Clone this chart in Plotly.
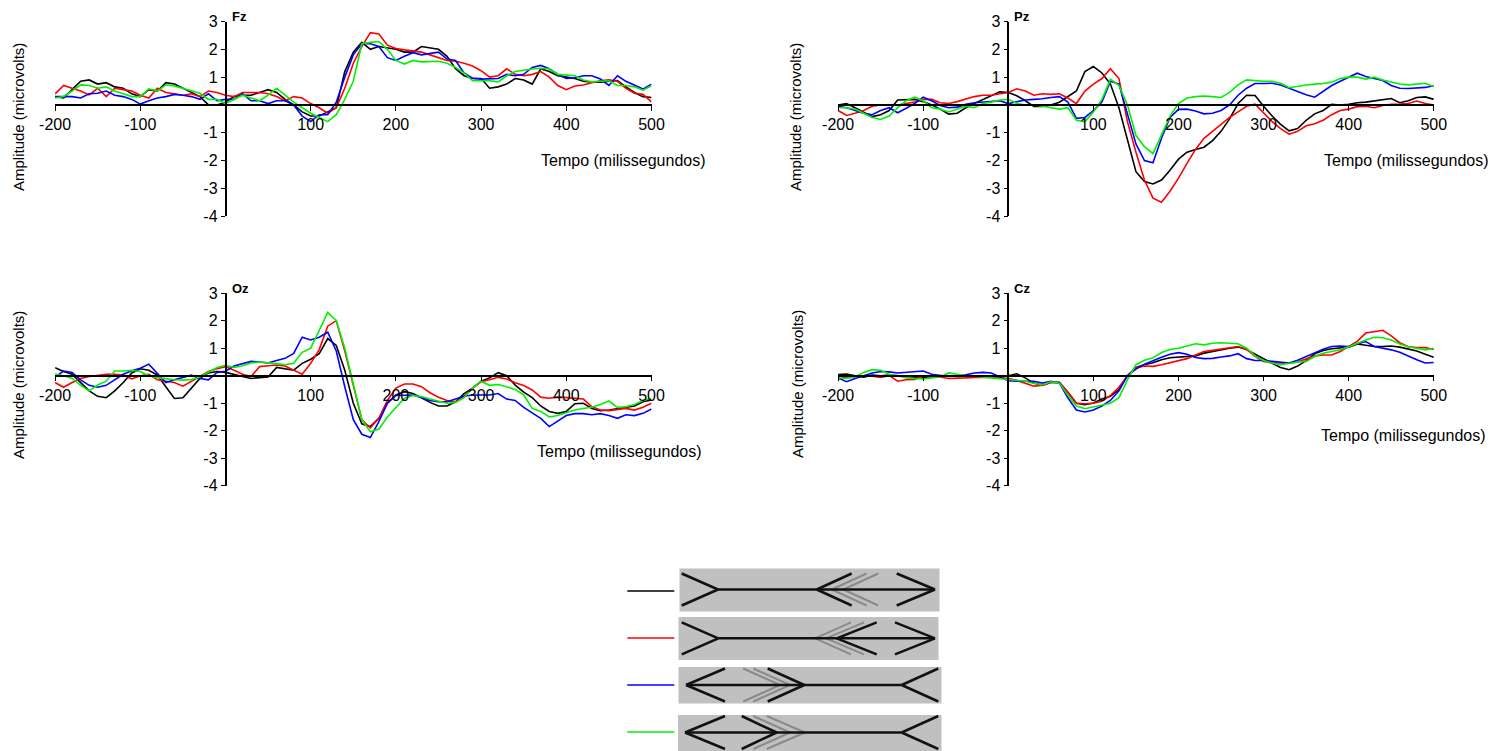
import plotly.graph_objects as go

W, H = 1508, 751


def px(x):
    return x / W


def py(y):
    return 1 - y / H


# ---------------- data ----------------
time_ms = list(range(-200, 501, 10))
x_ticks = [-200, -100, 100, 200, 300, 400, 500]
y_ticks = [-4, -3, -2, -1, 1, 2, 3]
series_colors = ["#000000", "#ff0000", "#0000ff", "#00f000"]

fz_black = [0.3, 0.25, 0.55, 0.85, 0.9, 0.75, 0.8, 0.65, 0.6, 0.4,
            0.3, 0.55, 0.5, 0.8, 0.75, 0.6, 0.45, 0.3, 0.0, 0.0,
            0.1, 0.3, 0.35, 0.35, 0.45, 0.55, 0.45, 0.2, 0.0, -0.25,
            -0.4, -0.4, -0.25, -0.1, 1.2, 1.9, 2.25, 2.0, 2.1, 2.05,
            2.0, 1.9, 1.9, 2.1, 2.05, 2.0, 1.75, 1.3, 1.05, 0.95,
            0.95, 0.6, 0.65, 0.75, 0.95, 0.9, 0.75, 1.3, 1.2, 1.05,
            1.0, 0.95, 0.85, 0.82, 0.82, 0.85, 0.88, 0.65, 0.45, 0.3,
            0.27]
fz_red = [0.4, 0.7, 0.6, 0.5, 0.36, 0.6, 0.3, 0.6, 0.55, 0.5,
          0.35, 0.25, 0.6, 0.45, 0.4, 0.35, 0.4, 0.3, 0.5, 0.45,
          0.35, 0.3, 0.45, 0.45, 0.45, 0.4, 0.3, 0.15, 0.3, 0.25,
          0.05, -0.1, -0.3, -0.1, 0.6, 1.5, 2.1, 2.6, 2.55, 2.15,
          2.03, 1.98, 1.95, 1.9, 1.8, 1.7, 1.6, 1.57, 1.5, 1.4,
          1.23, 1.0, 1.05, 1.3, 1.1, 1.05, 1.1, 1.2, 1.0, 0.7,
          0.55, 0.68, 0.72, 0.8, 0.87, 0.9, 0.85, 0.6, 0.42, 0.38,
          0.11]
fz_blue = [0.3, 0.3, 0.3, 0.25, 0.4, 0.42, 0.5, 0.35, 0.3, 0.2,
           0.03, 0.15, 0.25, 0.3, 0.38, 0.35, 0.3, 0.2, 0.4, 0.15,
           0.2, 0.2, 0.4, 0.15, 0.15, 0.05, 0.15, 0.15, 0.0, -0.4,
           -0.6, -0.35, -0.35, 0.1, 1.0, 1.8, 2.2, 2.2, 2.1, 1.7,
           1.6, 1.75, 1.88, 1.8, 1.85, 1.9, 1.65, 1.6, 1.15, 0.96,
           0.93, 0.93, 0.95, 1.1, 1.05, 1.1, 1.35, 1.42, 1.3, 1.1,
           0.95, 0.98, 1.05, 1.05, 0.93, 0.7, 1.05, 0.85, 0.7, 0.57,
           0.75]
fz_green = [0.25, 0.3, 0.5, 0.72, 0.7, 0.6, 0.65, 0.5, 0.4, 0.3,
            0.3, 0.58, 0.5, 0.72, 0.68, 0.6, 0.5, 0.42, 0.2, 0.2,
            0.05, 0.2, 0.35, 0.25, 0.15, 0.35, 0.6, 0.35, 0.1, -0.1,
            -0.3, -0.45, -0.6, -0.35, 0.2, 0.85, 2.2, 2.25, 2.28, 2.0,
            1.6, 1.47, 1.6, 1.55, 1.55, 1.57, 1.5, 1.35, 1.15, 0.87,
            0.87, 0.87, 0.83, 1.05, 1.2, 1.25, 1.29, 1.32, 1.3, 1.1,
            1.08, 1.05, 0.9, 0.83, 0.85, 0.87, 0.7, 0.7, 0.65, 0.53,
            0.69]

pz_black = [0.0, 0.05, -0.1, -0.25, -0.42, -0.35, -0.2, 0.18, 0.2, 0.2,
            0.12, 0.0, -0.15, -0.33, -0.3, -0.1, 0.05, 0.2, 0.35, 0.47,
            0.45, 0.33, 0.15, -0.05, -0.05, 0.0, 0.1, 0.3, 0.5, 1.2,
            1.38, 1.15, 0.75, -0.1, -1.3, -2.4, -2.75, -2.84, -2.7, -2.35,
            -1.95, -1.7, -1.6, -1.52, -1.28, -0.95, -0.5, 0.05, 0.35, 0.34,
            -0.05, -0.4, -0.7, -0.93, -0.85, -0.55, -0.32, -0.2, 0.02, 0.0,
            0.02, 0.08, 0.1, 0.15, 0.2, 0.23, 0.08, 0.15, 0.27, 0.29,
            0.2]
pz_red = [-0.2, -0.38, -0.3, -0.2, -0.05, 0.0, 0.0, 0.0, 0.05, 0.1,
          0.2, 0.2, 0.08, 0.05, 0.12, 0.2, 0.3, 0.35, 0.35, 0.4,
          0.45, 0.58, 0.5, 0.35, 0.4, 0.38, 0.4, 0.25, 0.05, 0.5,
          0.75, 0.95, 1.3, 0.95, -0.6, -1.7, -2.7, -3.35, -3.5, -3.1,
          -2.63, -2.1, -1.6, -1.2, -0.95, -0.7, -0.45, -0.25, -0.05, 0.03,
          -0.3, -0.6, -0.85, -1.05, -0.95, -0.75, -0.68, -0.55, -0.35, -0.2,
          -0.15, -0.06, -0.05, -0.1, -0.02, 0.02, 0.03, 0.05, 0.14, 0.05,
          0.0]
pz_blue = [-0.05, -0.1, -0.2, -0.3, -0.35, -0.2, -0.1, -0.28, -0.12, 0.05,
           0.28, 0.15, -0.02, -0.1, -0.08, 0.02, 0.08, 0.1, 0.12, 0.15,
           0.05, 0.12, 0.18, 0.2, 0.22, 0.27, 0.3, 0.1, -0.48, -0.45,
           -0.2, 0.1, 0.85, 0.75, -0.3, -1.4, -2.0, -2.08, -1.2, -0.45,
           -0.16, -0.15, -0.22, -0.32, -0.3, -0.2, 0.0, 0.35, 0.6, 0.77,
           0.77, 0.78, 0.72, 0.6, 0.48, 0.37, 0.28, 0.5, 0.7, 0.85,
           1.0, 1.14, 1.02, 0.95, 0.88, 0.7, 0.6, 0.59, 0.6, 0.63,
           0.69]
pz_green = [-0.1, -0.1, -0.15, -0.3, -0.45, -0.52, -0.4, -0.1, 0.15, 0.28,
            0.15, -0.1, -0.15, -0.25, -0.15, -0.05, -0.1, 0.05, 0.1, 0.18,
            0.2, 0.05, 0.0, 0.0, -0.05, -0.1, -0.15, -0.1, -0.55, -0.6,
            -0.25, 0.2, 0.92, 0.7, 0.0, -1.1, -1.5, -1.75, -1.1, -0.4,
            0.05, 0.25, 0.3, 0.32, 0.3, 0.27, 0.45, 0.72, 0.9, 0.87,
            0.85, 0.85, 0.78, 0.62, 0.68, 0.72, 0.75, 0.77, 0.82, 0.95,
            1.0, 1.0, 0.93, 1.0, 0.9, 0.82, 0.75, 0.72, 0.76, 0.78,
            0.65]

oz_black = [0.29, 0.15, 0.05, -0.25, -0.55, -0.75, -0.8, -0.55, -0.25, 0.1,
            0.25, 0.2, 0.02, -0.4, -0.83, -0.8, -0.45, -0.1, 0.1, 0.15,
            0.12, 0.05, -0.02, -0.1, -0.07, -0.05, 0.3, 0.25, 0.2, 0.45,
            0.6, 0.8, 1.35, 1.1, 0.2, -1.0, -1.75, -1.85, -1.55, -1.0,
            -0.7, -0.58, -0.65, -0.8, -0.97, -1.1, -1.1, -0.95, -0.65, -0.45,
            -0.2, -0.08, 0.11, 0.0, -0.34, -0.6, -0.8, -1.1, -1.3, -1.37,
            -1.3, -1.02, -1.0, -1.19, -1.27, -1.25, -1.2, -1.15, -1.1, -0.95,
            -0.88]
oz_red = [-0.25, -0.42, -0.25, -0.1, -0.03, 0.02, 0.05, 0.05, 0.02, -0.12,
          0.0, 0.05, -0.15, -0.2, -0.25, -0.38, -0.2, 0.0, 0.15, 0.25,
          0.33, 0.2, 0.05, -0.03, 0.33, 0.36, 0.39, 0.35, 0.2, 0.05,
          0.45, 0.95, 1.8, 2.0, 0.9, -0.4, -1.6, -1.9, -1.55, -0.9,
          -0.45, -0.3, -0.3, -0.4, -0.62, -0.78, -0.9, -0.95, -0.75, -0.45,
          -0.22, -0.15, -0.06, -0.12, -0.26, -0.36, -0.52, -0.78, -0.82, -0.77,
          -0.8, -0.82, -0.85, -1.13, -1.25, -1.27, -1.22, -1.19, -1.25, -1.15,
          -1.0]
oz_blue = [-0.04, 0.17, 0.12, -0.15, -0.35, -0.42, -0.35, -0.15, 0.05, 0.18,
           0.27, 0.42, 0.1, -0.25, -0.15, -0.06, 0.02, -0.1, -0.15, 0.12,
           0.16, 0.35, 0.43, 0.52, 0.5, 0.46, 0.55, 0.63, 0.81, 1.4,
           1.3, 1.4, 1.58, 0.9, -0.4, -1.6, -2.13, -2.25, -1.67, -1.0,
           -0.72, -0.7, -0.7, -0.8, -0.9, -0.95, -0.95, -0.85, -0.75, -0.7,
           -0.7, -0.7, -0.65, -0.85, -0.9, -1.15, -1.35, -1.55, -1.85, -1.65,
           -1.45, -1.38, -1.38, -1.42, -1.38, -1.45, -1.55, -1.42, -1.45, -1.37,
           -1.21]
oz_green = [0.06, 0.0, -0.1, -0.35, -0.55, -0.34, -0.2, 0.17, 0.17, 0.2,
            0.15, 0.0, -0.07, -0.12, -0.15, -0.16, -0.14, -0.05, 0.12, 0.3,
            0.38, 0.3, 0.36, 0.46, 0.5, 0.48, 0.44, 0.4, 0.45, 0.85,
            1.0, 1.65, 2.3, 2.0, 1.0, -0.3, -1.6, -2.04, -1.94, -1.5,
            -1.15, -0.82, -0.72, -0.76, -0.85, -0.92, -1.0, -0.97, -0.8, -0.45,
            -0.2, -0.35, -0.32, -0.4, -0.5, -0.7, -1.19, -1.3, -1.5, -1.45,
            -1.35, -1.25, -1.19, -1.15, -1.05, -0.92, -1.15, -1.13, -1.05, -0.9,
            -0.82]

cz_black = [0.04, 0.06, 0.0, -0.05, 0.02, 0.0, 0.02, 0.0, -0.02, -0.05,
            -0.08, -0.03, -0.02, 0.0, -0.03, -0.02, 0.0, -0.02, -0.03, -0.01,
            0.0, 0.07, -0.08, -0.27, -0.35, -0.25, -0.24, -0.6, -1.0, -1.05,
            -0.99, -0.85, -0.75, -0.5, 0.0, 0.3, 0.4, 0.47, 0.58, 0.65,
            0.67, 0.69, 0.72, 0.82, 0.88, 0.95, 1.0, 1.04, 0.95, 0.78,
            0.6, 0.45, 0.3, 0.22, 0.35, 0.55, 0.8, 0.92, 0.98, 1.02,
            1.04, 1.15, 1.1, 1.06, 1.06, 1.08, 1.04, 0.98, 0.9, 0.78,
            0.67]
cz_red = [-0.12, -0.05, -0.03, 0.0, -0.02, -0.06, 0.0, -0.2, -0.15, -0.14,
          -0.02, -0.03, -0.05, -0.1, -0.1, -0.08, -0.06, -0.05, -0.06, -0.07,
          -0.1, -0.17, -0.27, -0.38, -0.35, -0.25, -0.25, -0.6, -1.0, -1.02,
          -1.0, -0.93, -0.72, -0.42, 0.0, 0.28, 0.35, 0.34, 0.4, 0.47,
          0.55, 0.62, 0.75, 0.88, 0.92, 0.96, 1.02, 1.06, 0.96, 0.7,
          0.52, 0.46, 0.46, 0.45, 0.5, 0.6, 0.72, 0.75, 0.75, 0.88,
          1.05, 1.25, 1.55, 1.6, 1.65, 1.45, 1.2, 1.05, 1.02, 1.02,
          0.95]
cz_blue = [-0.08, -0.22, -0.1, 0.0, 0.1, 0.15, 0.14, 0.1, 0.12, 0.16,
           0.17, 0.05, 0.0, -0.03, 0.0, 0.03, 0.1, 0.12, 0.1, -0.05,
           -0.18, -0.2, -0.2, -0.2, -0.27, -0.2, -0.27, -0.8, -1.25, -1.32,
           -1.25, -1.1, -0.9, -0.55, 0.0, 0.24, 0.42, 0.55, 0.67, 0.78,
           0.84, 0.78, 0.66, 0.62, 0.63, 0.68, 0.72, 0.8, 0.62, 0.55,
           0.55, 0.52, 0.48, 0.46, 0.56, 0.7, 0.82, 0.96, 1.06, 1.08,
           1.06, 1.16, 1.24, 1.06, 1.0, 0.94, 0.85, 0.7, 0.58, 0.46,
           0.48]
cz_green = [-0.08, -0.1, -0.05, 0.12, 0.22, 0.2, 0.05, 0.0, -0.08, -0.1,
            -0.12, -0.08, -0.04, 0.1, 0.05, 0.0, -0.02, -0.05, -0.06, -0.1,
            -0.14, -0.16, -0.2, -0.28, -0.33, -0.22, -0.27, -0.7, -1.1, -1.2,
            -1.13, -1.07, -1.0, -0.8, -0.15, 0.4, 0.56, 0.65, 0.84, 0.95,
            1.0, 1.08, 1.16, 1.12, 1.18, 1.2, 1.18, 1.16, 1.0, 0.72,
            0.55, 0.45, 0.4, 0.45, 0.5, 0.52, 0.7, 0.82, 0.88, 0.94,
            1.05, 1.18, 1.3, 1.4, 1.38, 1.3, 1.15, 1.05, 1.0, 0.94,
            1.0]

panel_names = ["Fz", "Pz", "Oz", "Cz"]
panel_series = [
    [fz_black, fz_red, fz_blue, fz_green],
    [pz_black, pz_red, pz_blue, pz_green],
    [oz_black, oz_red, oz_blue, oz_green],
    [cz_black, cz_red, cz_blue, cz_green],
]
x_title = "Tempo (milissegundos)"
y_title = "Amplitude (microvolts)"

# ---------------- layout geometry (pixels) ----------------
X_RANGE = [-200, 500]
Y_RANGE = [-4, 3]
# (x of -200, x of 500, y of 3, y of -4)
panel_px = [
    (55.1, 651.5, 21.5, 216.2),
    (838.1, 1433.8, 21.5, 216.2),
    (55.1, 651.5, 293.2, 485.7),
    (838.1, 1433.8, 293.2, 485.7),
]
xtitle_pos = [(623, 160), (1406, 160), (619, 452), (1403, 435)]
ytitle_pos = [(18, 117), (795, 117), (18, 385), (797, 384)]

FONT = "Liberation Sans, Arial, sans-serif"

fig = go.Figure()
layout = dict(
    template="none",
    width=W, height=H, autosize=False,
    margin=dict(l=0, r=0, t=0, b=0, pad=0, autoexpand=False),
    paper_bgcolor="white", plot_bgcolor="white",
    showlegend=False,
    font=dict(family=FONT, color="black"),
)
annotations = []
shapes = []

for i, (name, series) in enumerate(zip(panel_names, panel_series)):
    n = "" if i == 0 else str(i + 1)
    xa, ya = "x" + n, "y" + n
    x0, x1, ytop, ybot = panel_px[i]
    x_zero = x0 + (0 - X_RANGE[0]) / (X_RANGE[1] - X_RANGE[0]) * (x1 - x0)
    y_zero = ytop + (Y_RANGE[1] - 0) / (Y_RANGE[1] - Y_RANGE[0]) * (ybot - ytop)
    layout["xaxis" + n] = dict(
        domain=[px(x0), px(x1)], range=X_RANGE, anchor="free", position=py(y_zero),
        tickvals=x_ticks, ticktext=[str(v) for v in x_ticks],
        ticks="outside", ticklen=5, tickwidth=1.3, tickcolor="black",
        showline=True, linecolor="black", linewidth=1.5,
        showgrid=False, zeroline=False, fixedrange=True, automargin=False,
        tickfont=dict(family=FONT, size=16, color="black"),
    )
    layout["yaxis" + n] = dict(
        domain=[py(ybot), py(ytop)], range=Y_RANGE, anchor="free", position=px(x_zero),
        tickvals=y_ticks, ticktext=[str(v) for v in y_ticks],
        ticks="outside", ticklen=4, tickwidth=1.3, tickcolor="black",
        showline=True, linecolor="black", linewidth=1.5,
        showgrid=False, zeroline=False, fixedrange=True, automargin=False,
        tickfont=dict(family=FONT, size=16, color="black"),
    )
    for vals, col in zip(series, series_colors):
        fig.add_trace(go.Scatter(
            x=time_ms, y=vals, mode="lines", xaxis=xa, yaxis=ya,
            line=dict(color=col, width=1.6), hoverinfo="skip", cliponaxis=False,
        ))
    annotations.append(dict(
        x=px(x_zero + 4), y=py(ytop - 5), xref="paper", yref="paper",
        text="<b>%s</b>" % name, showarrow=False, xanchor="left", yanchor="middle",
        font=dict(family=FONT, size=13, color="black"),
    ))
    tx, ty = xtitle_pos[i]
    annotations.append(dict(
        x=px(tx), y=py(ty), xref="paper", yref="paper", text=x_title,
        showarrow=False, xanchor="center", yanchor="middle",
        font=dict(family=FONT, size=16, color="black"),
    ))
    ax_, ay_ = ytitle_pos[i]
    annotations.append(dict(
        x=px(ax_), y=py(ay_), xref="paper", yref="paper", text=y_title,
        showarrow=False, xanchor="center", yanchor="middle", textangle=-90,
        font=dict(family=FONT, size=15, color="black"),
    ))

# ---------------- key: coloured line + Müller-Lyer figure per condition ----------------
BOX_GRAY = "#c0c0c0"
GHOST = "#8a8a8a"
key_rows = [
    dict(box=(679.5, 939.5, 568.5, 611.5), yc=589.5, h=16, line_y=591,
         shaft=(718, 935),
         ghosts=[(831.7, 866.7), (843.3, 878.3)],
         black=[(718, 681.7), (816.7, 851.7), (935, 896.7)]),
    dict(box=(678.5, 938.5, 617, 660), yc=638.3, h=16, line_y=638,
         shaft=(718.3, 935),
         ghosts=[(815, 851), (826, 864)],
         black=[(718.3, 681.7), (836.7, 876.7), (935, 895)]),
    dict(box=(678.5, 941.5, 667, 703.5), yc=685, h=16.5, line_y=685,
         shaft=(686, 901.7),
         ghosts=[(780, 743.3), (790, 753.3)],
         black=[(686, 725), (804.3, 767.7), (901.7, 938.3)]),
    dict(box=(678, 941.5, 715, 752), yc=732.5, h=16.5, line_y=732,
         shaft=(685, 901.7),
         ghosts=[(790, 753.3), (805, 766.7)],
         black=[(685, 725), (776.7, 741.7), (901.7, 938.3)]),
]
KEY_LINE_X = (627.3, 674.3)


def seg(xa, ya, xb, yb, color, width):
    return dict(type="line", xref="paper", yref="paper",
                x0=px(xa), y0=py(ya), x1=px(xb), y1=py(yb),
                line=dict(color=color, width=width), layer="above")


for row, col in zip(key_rows, series_colors):
    bx0, bx1, by0, by1 = row["box"]
    shapes.append(dict(type="rect", xref="paper", yref="paper",
                       x0=px(bx0), x1=px(bx1), y0=py(by1), y1=py(by0),
                       fillcolor=BOX_GRAY, line=dict(width=0), layer="below"))
    shapes.append(seg(KEY_LINE_X[0], row["line_y"], KEY_LINE_X[1], row["line_y"], col, 1.5))
    yc, h = row["yc"], row["h"]
    for vx, fx in row["ghosts"]:
        shapes.append(seg(vx, yc, fx, yc - h, GHOST, 2))
        shapes.append(seg(vx, yc, fx, yc + h, GHOST, 2))
    shapes.append(seg(row["shaft"][0], yc, row["shaft"][1], yc, "#111111", 2.5))
    for vx, fx in row["black"]:
        shapes.append(seg(vx, yc, fx, yc - h, "#111111", 2.5))
        shapes.append(seg(vx, yc, fx, yc + h, "#111111", 2.5))

layout["annotations"] = annotations
layout["shapes"] = shapes
fig.update_layout(**layout)
fig.write_html("out.html", config={"displayModeBar": False})
